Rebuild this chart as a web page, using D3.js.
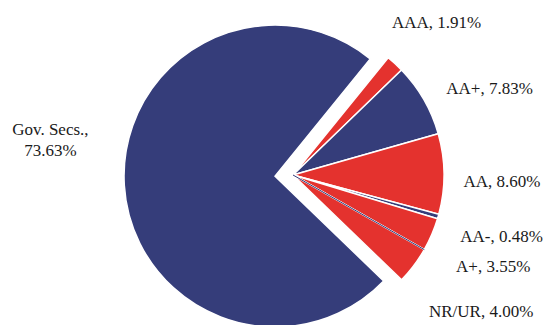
<!DOCTYPE html>
<html>
<head>
<meta charset="utf-8">
<script src="https://cdn.jsdelivr.net/npm/d3@7"></script>
<style>
  body { margin: 0; background: #fff; }
  svg { display: block; }
  text { font-family: "Liberation Serif", serif; font-size: 17px; fill: #1a1a1a; }
</style>
</head>
<body>
<svg id="chart" width="543" height="325"></svg>
<script>
// portfolio split by rating (percent); "A" is a zero slice, drawn only as a line
const categories = ['Gov. Secs.', 'AAA', 'AA+', 'AA', 'AA-', 'A+', 'A', 'NR/UR'];
const shares = [73.63, 1.91, 7.83, 8.60, 0.48, 3.55, 0.00, 4.00];
const exploded = ['Gov. Secs.'];

const blue = '#353d7a';
const red = '#e4322e';

const width = 543, height = 325;
const cx = 293, cy = 175, radius = 151, explodeBy = 18;
const labelRadius = 220;
// hand placed label nudges, like the original's dragged labels
const labelNudge = {
  'Gov. Secs.': [-23, -48],
  'AAA': [-5, 9],
  'AA+': [6, 23],
  'AA': [-11, 8],
  'AA-': [-3, 1],
  'A+': [-2, 4],
  'NR/UR': [12, 4]
};

const data = categories.map((name, i) => ({ name, value: shares[i], colour: i % 2 === 0 ? blue : red }));

const startDeg = 134;
const pie = d3.pie()
  .sort(null)
  .value(d => d.value)
  .startAngle(startDeg * Math.PI / 180)
  .endAngle((startDeg + 360) * Math.PI / 180);

const arc = d3.arc().innerRadius(0).outerRadius(radius);
const arcs = pie(data);

const svg = d3.select('#chart');
const g = svg.append('g').attr('transform', `translate(${cx},${cy})`);

const offset = d => {
  if (!exploded.includes(d.data.name)) return [0, 0];
  const mid = (d.startAngle + d.endAngle) / 2;
  return [explodeBy * Math.sin(mid), -explodeBy * Math.cos(mid)];
};

g.selectAll('path.slice')
  .data(arcs.filter(d => d.data.value > 0))
  .join('path')
  .attr('class', 'slice')
  .attr('transform', d => `translate(${offset(d)})`)
  .attr('d', arc)
  .attr('fill', d => d.data.colour)
  .attr('stroke', '#fff')
  .attr('stroke-width', 1.5)
  .attr('stroke-linejoin', 'miter');

// zero-value slice shows up as a thin line
g.selectAll('path.zero')
  .data(arcs.filter(d => d.data.value === 0))
  .join('path')
  .attr('class', 'zero')
  .attr('d', d => {
    const a = d.startAngle;
    return `M0,0L${radius * Math.sin(a)},${-radius * Math.cos(a)}`;
  })
  .attr('stroke', d => d.data.colour)
  .attr('stroke-width', 1)
  .attr('fill', 'none');

const labelArc = d3.arc().innerRadius(labelRadius).outerRadius(labelRadius);

const labels = g.selectAll('text.lbl')
  .data(arcs.filter(d => d.data.value > 0))
  .join('text')
  .attr('class', 'lbl')
  .attr('text-anchor', 'middle')
  .attr('transform', d => {
    const [x, y] = labelArc.centroid(d);
    const [nx, ny] = labelNudge[d.data.name] || [0, 0];
    return `translate(${x + nx},${y + ny})`;
  });

labels.each(function(d) {
  const t = d3.select(this);
  const pct = `${d.data.value.toFixed(2)}%`;
  if (d.data.name === 'Gov. Secs.') {
    t.append('tspan').attr('x', 0).attr('dy', '-0.3em').text(`${d.data.name},`);
    t.append('tspan').attr('x', 0).attr('dy', '1.2em').text(pct);
  } else {
    t.append('tspan').attr('x', 0).attr('dy', '0.35em').text(`${d.data.name}, ${pct}`);
  }
});
</script>
</body>
</html>
